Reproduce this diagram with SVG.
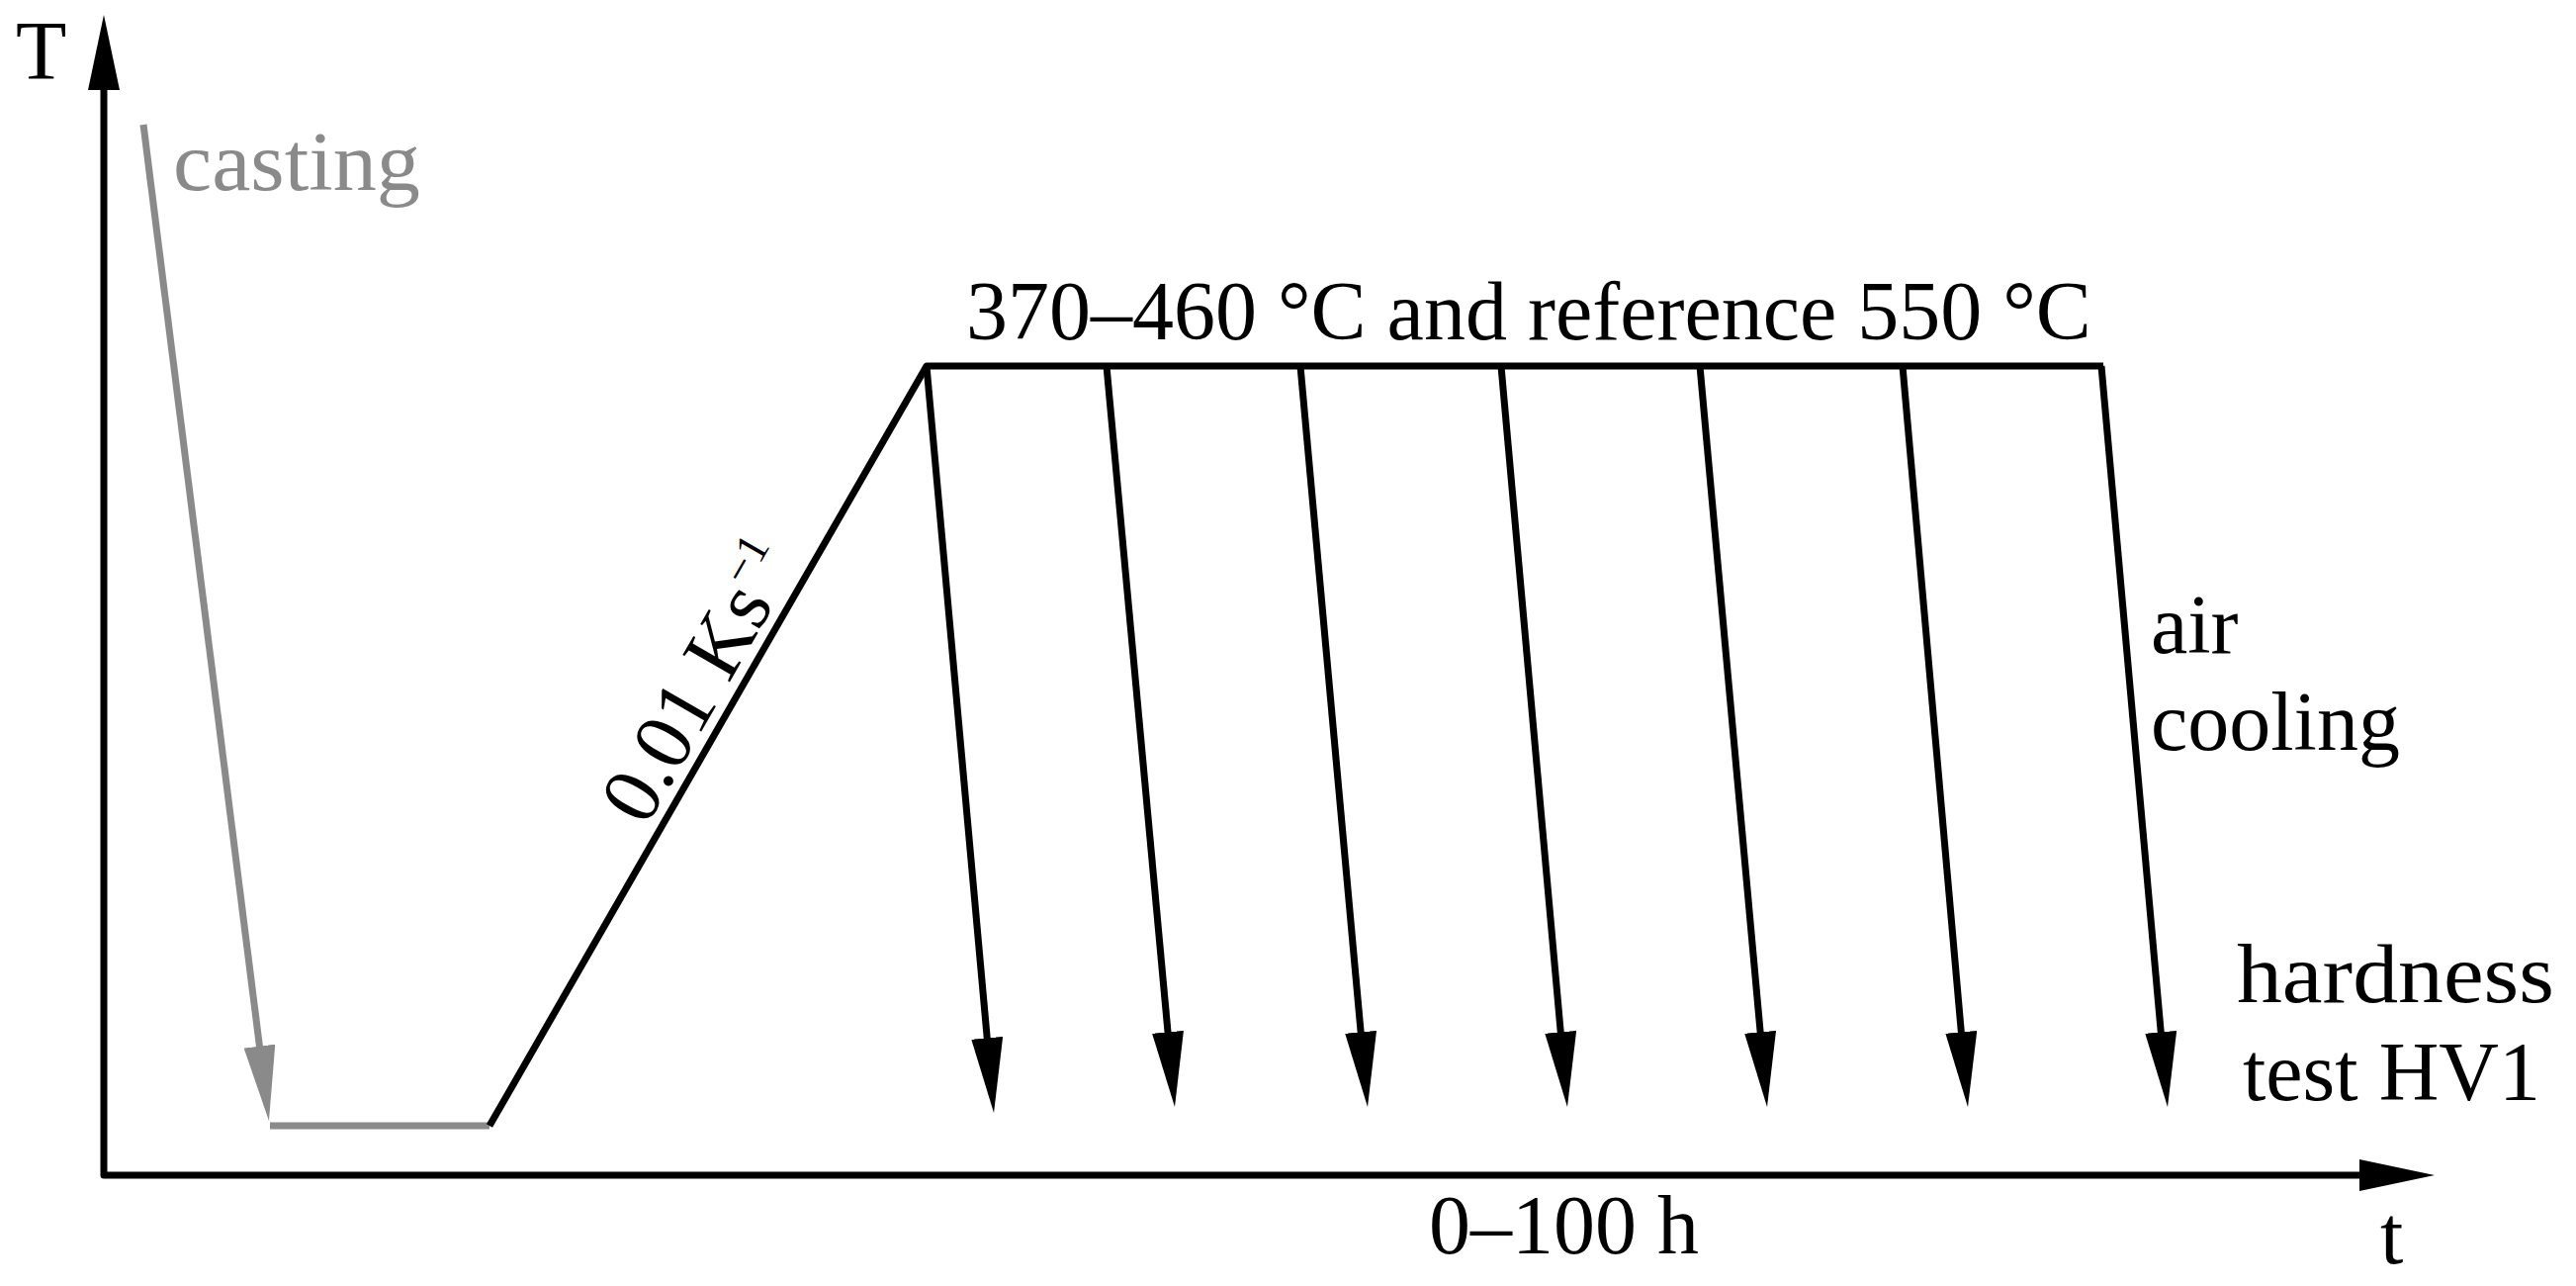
<svg xmlns="http://www.w3.org/2000/svg" width="2605" height="1300" viewBox="0 0 2605 1300">
  <style>
    .lbl { font-family: "Liberation Serif", "Times New Roman", serif; font-size: 84px; fill: #000; }
    .gray { fill: #8a8a8a; }
    .ln { fill: none; stroke: #000; stroke-width: 7; stroke-linejoin: round; }
    .gln { fill: none; stroke: #8a8a8a; stroke-width: 7; }
  </style>
  <defs>
    <marker id="ah" viewBox="0 0 76 32" refX="2" refY="16" markerWidth="76" markerHeight="32" markerUnits="userSpaceOnUse" orient="auto-start-reverse">
      <path d="M0,0 L76,16 L0,32 Z" fill="#000"/>
    </marker>
    <marker id="ahg" viewBox="0 0 76 32" refX="2" refY="16" markerWidth="76" markerHeight="32" markerUnits="userSpaceOnUse" orient="auto">
      <path d="M0,0 L76,16 L0,32 Z" fill="#8a8a8a"/>
    </marker>
  </defs>
  <rect width="2605" height="1300" fill="#fff"/>

  <g id="connectors">
    <polyline id="axes" class="ln" points="105,89 105,1188 2388,1188" marker-start="url(#ah)" marker-end="url(#ah)"/>
    <line id="casting-arrow" class="gln" x1="145" y1="126" x2="262.7" y2="1059.6" marker-end="url(#ahg)"/>
    <line id="hold" class="gln" x1="273" y1="1138" x2="495" y2="1138"/>
    <polyline id="ramp-plateau" class="ln" points="495,1138 937,370 2127,370"/>
    <line class="ln" x1="937" y1="370" x2="998.4" y2="1051.3" marker-end="url(#ah)"/>
    <line class="ln" x1="1119" y1="370" x2="1181.2" y2="1045.3" marker-end="url(#ah)"/>
    <line class="ln" x1="1315" y1="370" x2="1376.3" y2="1045.3" marker-end="url(#ah)"/>
    <line class="ln" x1="1518" y1="370" x2="1578.4" y2="1045.3" marker-end="url(#ah)"/>
    <line class="ln" x1="1719" y1="370" x2="1780.3" y2="1045.3" marker-end="url(#ah)"/>
    <line class="ln" x1="1924" y1="370" x2="1983.5" y2="1045.3" marker-end="url(#ah)"/>
    <line class="ln" x1="2125" y1="370" x2="2185.4" y2="1045.3" marker-end="url(#ah)"/>
  </g>

  <g id="label-T"><text class="lbl" x="16" y="80">T</text></g>
  <g id="label-casting"><text class="lbl gray" x="175" y="192" textLength="250" lengthAdjust="spacingAndGlyphs">casting</text></g>
  <g id="label-temp"><text class="lbl" x="977" y="343">370–460 °C and reference 550 °C</text></g>
  <g id="label-rate"><text class="lbl" x="653" y="837" font-size="86" transform="rotate(-60.07 653 837)">0.01 Ks<tspan font-size="46" dy="-33">−1</tspan></text></g>
  <g id="label-air"><text class="lbl" x="2175" y="660">air</text><text class="lbl" x="2175" y="758">cooling</text></g>
  <g id="label-hardness"><text class="lbl" x="2262" y="1013" textLength="321" lengthAdjust="spacingAndGlyphs">hardness</text><text class="lbl" x="2268" y="1112">test HV1</text></g>
  <g id="label-time"><text class="lbl" x="1445" y="1267">0–100 h</text></g>
  <g id="label-t"><text class="lbl" x="2407" y="1277">t</text></g>
</svg>
